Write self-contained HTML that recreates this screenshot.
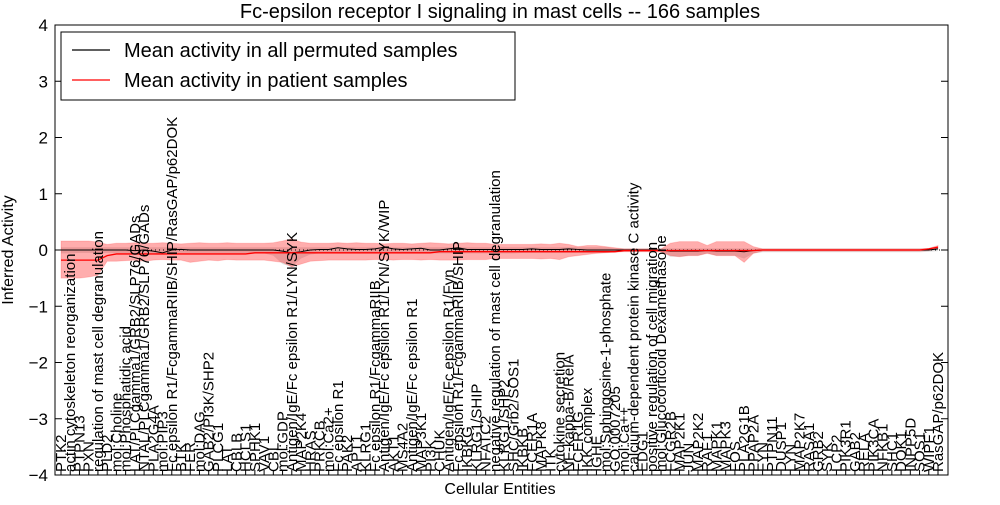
<!DOCTYPE html>
<html><head><meta charset="utf-8"><style>
body{margin:0;background:#fff;}
svg text{font-family:"Liberation Sans","DejaVu Sans",sans-serif;}
</style></head><body>
<svg id="chart" width="1000" height="500" xmlns="http://www.w3.org/2000/svg">
<rect x="0" y="0" width="1000" height="500" fill="#fff"/>
<text x="500" y="18" text-anchor="middle" font-size="20">Fc-epsilon receptor I signaling in mast cells -- 166 samples</text>
<g id="bands"></g>
<g id="lines"></g>
<g id="axes"></g>
<g id="xlabels"></g>
<rect x="55" y="25" width="893" height="450" fill="none" stroke="#000" stroke-width="1"/>
<g>
<rect x="61" y="32" width="454" height="68" fill="#fff" stroke="#000"/>
<line x1="72" y1="50" x2="110" y2="50" stroke="#000" stroke-width="1.2"/>
<text x="124" y="57" font-size="20">Mean activity in all permuted samples</text>
<line x1="72" y1="80" x2="110" y2="80" stroke="#f00" stroke-width="1.2"/>
<text x="124" y="87" font-size="20">Mean activity in patient samples</text>
</g>
<text x="500" y="494" text-anchor="middle" font-size="16">Cellular Entities</text>
<text transform="translate(13,250) rotate(-90)" text-anchor="middle" font-size="16">Inferred Activity</text>
</svg>
<script>
const categories=["PTK2","actin cytoskeleton reorganization","PTPN13","PXN","regulation of mast cell degranulation","PLD2","mol:Choline","mol:Phosphatidic acid","LAT/PLCgamma1/GRB2/SLP76/GADs","NTAL/PLCgamma1/GRB2/SLP76/GADs","PLA2G4A","mol:PIP3","Fc epsilon R1/FcgammaRIIB/SHIP/RasGAP/p62DOK","BTK","FER","mol:DAG","GAB2/PI3K/SHP2","PLCG1","LAT","CBLB","HCLS1","SPHK1","VAV1","CBL","mol:GDP","Antigen/IgE/Fc epsilon R1/LYN/SYK","MAP2K4","HRAS","PRKCB","mol:Ca2+","Fc epsilon R1","PAK2","APT1","KLRG1","Fc epsilon R1/FcgammaRIIB","Antigen/IgE/Fc epsilon R1/LYN/SYK/WIP","AKT1","MS4A2","Antigen/IgE/Fc epsilon R1","MAP3K1","PI3K","CHUK","Antigen/IgE/Fc epsilon R1/Fyn","Fc epsilon R1/FcgammaRIIB/SHIP","IKBKG","KLRG1/SHIP","NFATC2","negative regulation of mast cell degranulation","KLRG1/SHP2","SHC/Grb2/SOS1","IKBKB","FCER1A","MAPK8","ITK","cytokine secretion","NF-kappa-B/RelA","FCER1G","IKK complex","IGHE","mol:Sphingosine-1-phosphate","GO:0007205","mol:Ca++","calcium-dependent protein kinase C activity","EDG1","positive regulation of cell migration","mol:Glucocorticoid Dexamethasone","FCGR2B","MAP2K1","JUN","MAP2K2","RAF1","MAPK1","MAPK3","FOS","PLA2G1B","PPAP2A","FYN","PTPN11","DUSP1","LYN","MAP2K7","RASA1","GRB2","SYK","LCP2","PIK3R1","GAB2","RELA","PIK3CA","NFKB1","SHC1","DOK1","INPP5D","SOS1","WIPF1","RasGAP/p62DOK"];
const redMean=[-0.18,-0.18,-0.18,-0.18,-0.18,-0.1,-0.07,-0.07,-0.07,-0.07,
-0.07,-0.07,-0.07,-0.07,-0.07,-0.07,-0.07,-0.07,-0.07,-0.07,
-0.07,-0.05,-0.05,-0.05,-0.05,-0.05,-0.05,-0.05,-0.05,-0.05,
-0.05,-0.05,-0.05,-0.05,-0.05,-0.05,-0.05,-0.05,-0.05,-0.05,
-0.05,-0.03,-0.03,-0.03,-0.03,-0.03,-0.03,-0.03,-0.03,-0.03,
-0.03,-0.03,-0.03,-0.03,-0.03,-0.03,-0.03,-0.03,-0.03,-0.03,
-0.03,-0.01,-0.01,-0.01,-0.01,-0.01,-0.01,-0.01,-0.01,-0.01,
-0.01,-0.01,-0.01,-0.01,-0.01,-0.01,0,0,0,0,
0,0,0,0,0,0,0,0,0,0,
0,0,0,0,0.02,0.05];
const redHi=[0.16,0.16,0.16,0.16,0.14,0.1,0.12,0.12,0.13,0.12,
0.12,0.13,0.12,0.11,0.12,0.13,0.12,0.12,0.13,0.12,
0.12,0.12,0.12,0.13,0.16,0.2,0.14,0.12,0.12,0.12,
0.13,0.12,0.13,0.12,0.12,0.11,0.12,0.12,0.11,0.12,
0.13,0.12,0.11,0.12,0.13,0.12,0.12,0.1,0.1,0.1,
0.1,0.1,0.11,0.1,0.12,0.1,0.06,0.08,0.08,0.06,
0.04,0.02,0.02,0.02,0.02,0.02,0.12,0.15,0.15,0.15,
0.08,0.15,0.15,0.15,0.15,0.06,0.02,0.02,0.02,0.02,
0.02,0.02,0.02,0.02,0.02,0.02,0.02,0.02,0.02,0.02,
0.02,0.02,0.02,0.02,0.03,0.08];
const redLo=[-0.5,-0.5,-0.5,-0.48,-0.45,-0.2,-0.2,-0.19,-0.18,-0.2,
-0.18,-0.17,-0.18,-0.18,-0.22,-0.2,-0.18,-0.19,-0.17,-0.18,
-0.18,-0.18,-0.18,-0.2,-0.22,-0.3,-0.25,-0.2,-0.19,-0.18,
-0.18,-0.18,-0.18,-0.18,-0.17,-0.17,-0.18,-0.17,-0.17,-0.18,
-0.17,-0.18,-0.18,-0.18,-0.17,-0.17,-0.17,-0.15,-0.15,-0.15,
-0.15,-0.15,-0.16,-0.15,-0.17,-0.12,-0.1,-0.08,-0.06,-0.05,
-0.04,-0.03,-0.03,-0.03,-0.03,-0.03,-0.1,-0.12,-0.1,-0.1,
-0.06,-0.1,-0.1,-0.1,-0.22,-0.06,-0.02,-0.02,-0.02,-0.02,
-0.02,-0.02,-0.02,-0.02,-0.02,-0.02,-0.02,-0.02,-0.02,-0.02,
-0.02,-0.02,-0.02,-0.02,-0.01,0.02];
const blackMean=[0,0,0,0,0,0,0,0,-0.01,0,
-0.02,-0.05,0,0.01,0,0,0,0,0,0,
0,0,0,0,-0.02,-0.05,-0.03,0,0.01,0.01,
0.04,0.02,0.01,0.01,0.02,0.05,0.02,0.01,0.02,0.03,
0,0,0.02,0.04,0.01,0.01,0.01,0.01,0.01,0.01,
0.01,0.02,0.01,0.01,0.01,0.02,0.01,0,0,0,
0,0,0,0,0,0,-0.02,-0.02,-0.02,-0.02,
-0.01,-0.02,-0.02,-0.02,-0.03,-0.01,0,0,0,0,
0,0,0,0,0,0,0,0,0,0,
0,0,0,0,0,0.02];
const grayHi=[0.05,0.05,0.05,0.05,0.05,0.05,0.05,0.05,0.05,0.05,
0.05,0.05,0.05,0.05,0.05,0.05,0.05,0.05,0.05,0.05,
0.05,0.05,0.05,0.05,0.05,0.05,0.05,0.05,0.05,0.05,
0.05,0.05,0.05,0.05,0.05,0.05,0.05,0.05,0.05,0.05,
0.05,0.05,0.05,0.05,0.05,0.05,0.05,0.05,0.05,0.05,
0.05,0.05,0.05,0.05,0.05,0.05,0.05,0.05,0.05,0.05,
0.03,0.03,0.03,0.03,0.03,0.03,0.03,0.03,0.03,0.03,
0.03,0.03,0.03,0.03,0.03,0.03,0.03,0.03,0.03,0.03,
0.03,0.03,0.03,0.03,0.03,0.03,0.03,0.03,0.03,0.03,
0.03,0.03,0.03,0.03,0.03,0.04];
const grayLo=[-0.06,-0.06,-0.05,-0.05,-0.05,-0.05,-0.05,-0.05,-0.05,-0.05,
-0.05,-0.08,-0.05,-0.05,-0.05,-0.05,-0.05,-0.05,-0.05,-0.05,
-0.05,-0.05,-0.06,-0.1,-0.25,-0.3,-0.15,-0.08,-0.06,-0.06,
-0.06,-0.06,-0.06,-0.06,-0.06,-0.06,-0.06,-0.06,-0.06,-0.06,
-0.06,-0.06,-0.06,-0.06,-0.06,-0.06,-0.06,-0.06,-0.06,-0.06,
-0.05,-0.05,-0.05,-0.05,-0.05,-0.05,-0.05,-0.05,-0.05,-0.05,
-0.04,-0.03,-0.03,-0.03,-0.03,-0.03,-0.12,-0.12,-0.1,-0.1,
-0.06,-0.1,-0.1,-0.1,-0.15,-0.06,-0.04,-0.04,-0.04,-0.04,
-0.04,-0.04,-0.04,-0.04,-0.04,-0.04,-0.04,-0.04,-0.04,-0.04,
-0.04,-0.04,-0.04,-0.04,-0.03,-0.02];
const yTicks=[-4,-3,-2,-1,0,1,2,3,4];

const NS="http://www.w3.org/2000/svg";
const X0=61,X1=938,Y0=250,YS=56.25;
function xs(i){return X0+i*(X1-X0)/(categories.length-1);}
function ys(v){return Y0-v*YS;}
function mk(t,p,a){const e=document.createElementNS(NS,t);for(const k in a)e.setAttribute(k,a[k]);p.appendChild(e);return e;}
function band(hi,lo){let d="";hi.forEach((v,i)=>{d+=(i?"L":"M")+xs(i)+","+ys(v);});for(let i=lo.length-1;i>=0;i--)d+="L"+xs(i)+","+ys(lo[i]);return d+"Z";}
function line(arr){return arr.map((v,i)=>(i?"L":"M")+xs(i)+","+ys(v)).join("");}
const bands=document.getElementById("bands");
const gb=mk("path",bands,{d:band(grayHi,grayLo),fill:"#999","fill-opacity":"0.3",stroke:"none"});


const rb=mk("path",bands,{d:band(redHi,redLo),fill:"#f00","fill-opacity":"0.32",stroke:"#f00","stroke-opacity":"0.15"});


const lines=document.getElementById("lines");
const zl=mk("line",lines,{x1:55,x2:948,y1:ys(0),y2:ys(0),stroke:"#000","stroke-dasharray":"1,3","stroke-width":"1"});


const bl=mk("path",lines,{d:line(blackMean),fill:"none",stroke:"#000","stroke-width":"1"});


const rl=mk("path",lines,{d:line(redMean),fill:"none",stroke:"#f00","stroke-width":"1.3"});


const axes=document.getElementById("axes");
yTicks.forEach(v=>{
  const y=ys(v);
  mk("line",axes,{x1:55,x2:62,y1:y,y2:y,stroke:"#000"});
  mk("line",axes,{x1:941,x2:948,y1:y,y2:y,stroke:"#000"});
  const t=mk("text",axes,{x:48,y:y+6,"text-anchor":"end","font-size":"17"});
  t.textContent=(v<0?"\u2212":"")+Math.abs(v);
  
  
});
const xl=document.getElementById("xlabels");
categories.forEach((c,i)=>{
  const x=xs(i);
  mk("line",axes,{x1:x,x2:x,y1:475,y2:470,stroke:"#000"});
  const t=mk("text",xl,{transform:"translate("+(x+5)+",472) rotate(-90)","font-size":"15"});
  t.textContent=c;
  
  
});
</script>
</body></html>
